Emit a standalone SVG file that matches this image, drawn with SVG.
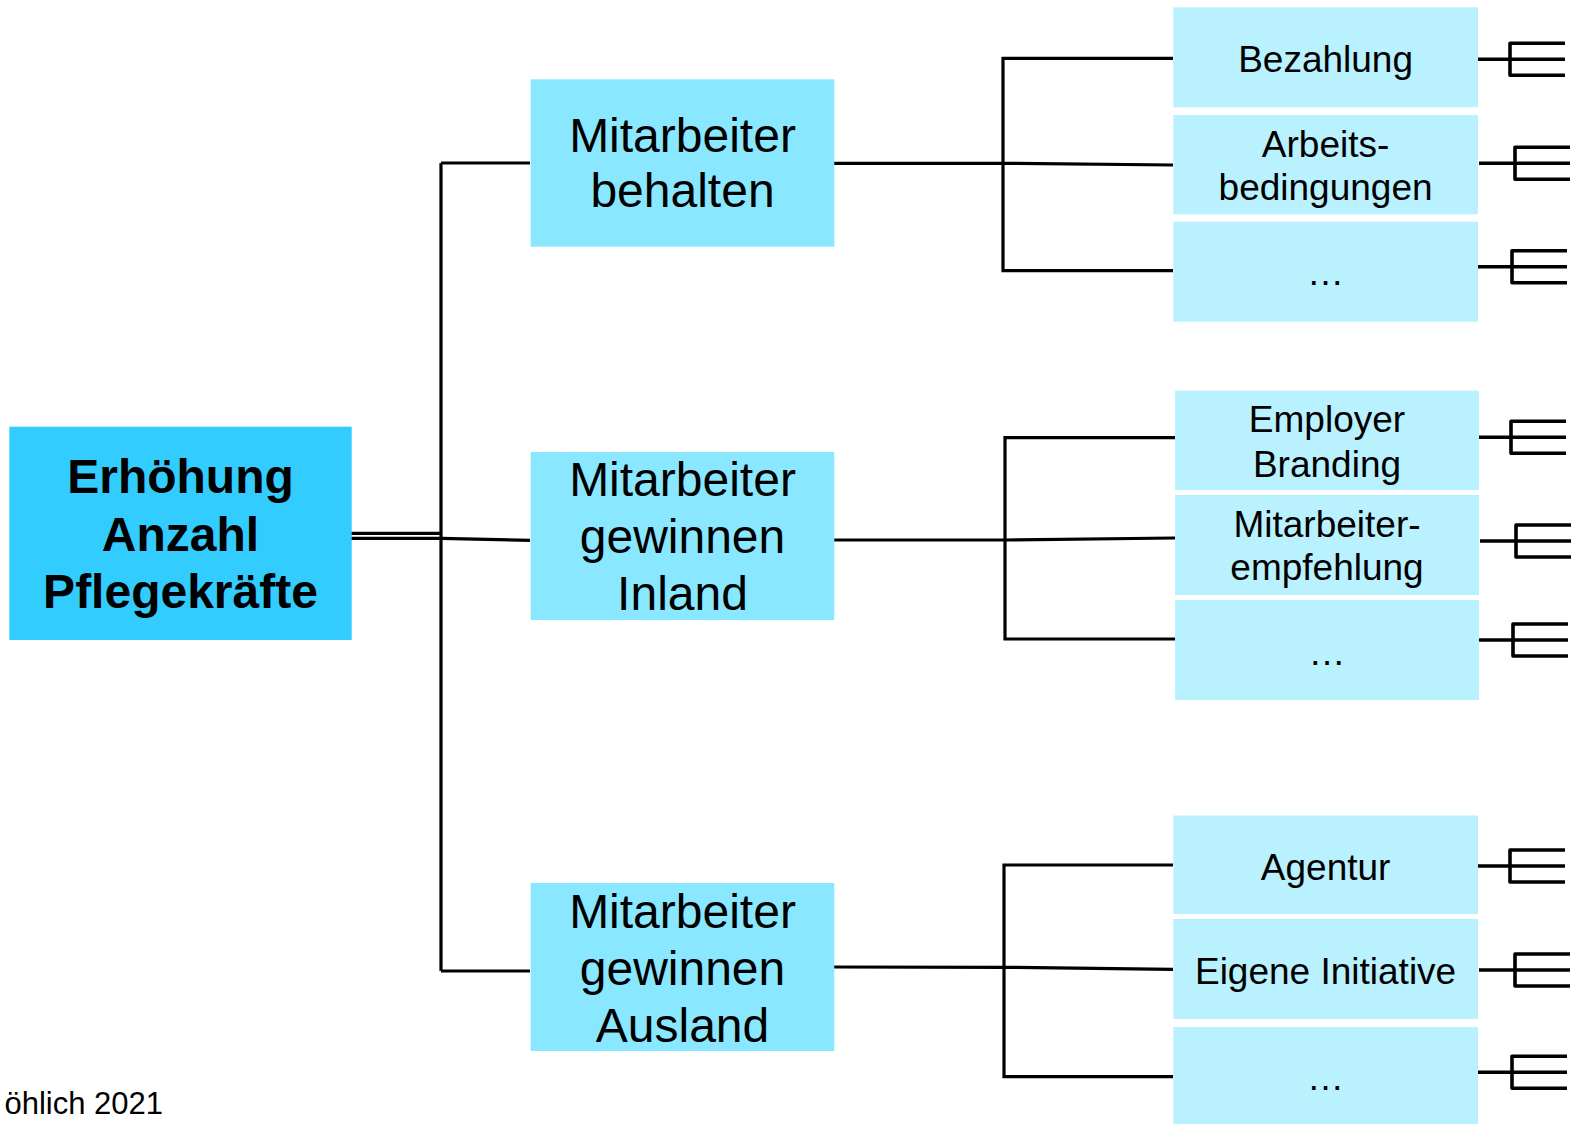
<svg xmlns="http://www.w3.org/2000/svg" width="1575" height="1124" viewBox="0 0 1575 1124">
  <style>
    text { font-family: "Liberation Sans", Arial, sans-serif; fill: #000; text-anchor: middle; }
    .root rect { fill: #33CCFF; }
    .root text { font-size: 48px; font-weight: bold; }
    .mid rect { fill: #89E8FF; }
    .mid text { font-size: 48px; }
    .leaf rect { fill: #BAF1FF; }
    .leaf text { font-size: 37px; }
    .wire { fill: none; stroke: #000; stroke-width: 3.2; }
    .fork { fill: none; stroke: #000; stroke-width: 3.6; stroke-linejoin: round; }
    .note { font-size: 31px; text-anchor: end; }
  </style>
  <defs>
    <!-- trident-shaped end mark: stem plus two prongs -->
    <path id="fork" class="fork" d="M0 0 H91 M91 -16 H36 V16 H91"/>
  </defs>

  <rect width="1575" height="1124" fill="#fff"/>

  <!-- connectors -->
  <g id="connectors">
    <!-- root to trunk -->
    <path class="wire" d="M351 533.3 H441"/>
    <path class="wire" d="M351 538.3 H441 L530 540.3"/>
    <path class="wire" d="M441 163 V971"/>
    <path class="wire" d="M441 163 H530"/>
    <path class="wire" d="M441 971 H530"/>

    <!-- behalten branch -->
    <path class="wire" d="M834 163.3 H1003 L1173 165"/>
    <path class="wire" d="M1173 58.3 H1003 V270.7 H1173"/>

    <!-- Inland branch -->
    <path class="wire" d="M834 540 H1005 L1175 538"/>
    <path class="wire" d="M1175 437.7 H1005 V639 H1175"/>

    <!-- Ausland branch -->
    <path class="wire" d="M834 967 L1004 967.3 L1173 969.3"/>
    <path class="wire" d="M1173 865 H1004 V1076.7 H1173"/>

    <!-- end marks -->
    <use href="#fork" x="1474" y="59.3"/>
    <use href="#fork" x="1479" y="163.3"/>
    <use href="#fork" x="1476" y="266.7"/>
    <use href="#fork" x="1475" y="437.3"/>
    <use href="#fork" x="1480" y="541"/>
    <use href="#fork" x="1477" y="640"/>
    <use href="#fork" x="1474" y="866"/>
    <use href="#fork" x="1479" y="970"/>
    <use href="#fork" x="1476" y="1072.3"/>
  </g>

  <!-- root node -->
  <g id="root" class="root">
    <rect x="9.3" y="426.7" width="342.4" height="213.3"/>
    <text x="180.5" y="493.3">Erhöhung</text>
    <text x="180.5" y="550.5">Anzahl</text>
    <text x="180.5" y="608.3">Pflegekräfte</text>
  </g>

  <!-- second level -->
  <g id="mid-behalten" class="mid">
    <rect x="530.7" y="79.3" width="303.6" height="167.4"/>
    <text x="682.5" y="151.7">Mitarbeiter</text>
    <text x="682.5" y="207.3">behalten</text>
  </g>
  <g id="mid-inland" class="mid">
    <rect x="530.7" y="452" width="303.6" height="168"/>
    <text x="682.5" y="496">Mitarbeiter</text>
    <text x="682.5" y="553">gewinnen</text>
    <text x="682.5" y="610">Inland</text>
  </g>
  <g id="mid-ausland" class="mid">
    <rect x="530.7" y="883" width="303.6" height="168"/>
    <text x="682.5" y="928">Mitarbeiter</text>
    <text x="682.5" y="985">gewinnen</text>
    <text x="682.5" y="1042">Ausland</text>
  </g>

  <!-- third level: behalten -->
  <g id="leaf-bezahlung" class="leaf">
    <rect x="1173.3" y="7.3" width="304.7" height="100"/>
    <text x="1325.6" y="71.7">Bezahlung</text>
  </g>
  <g id="leaf-arbeitsbedingungen" class="leaf">
    <rect x="1173.3" y="115" width="304.7" height="99.3"/>
    <text x="1325.6" y="156.7">Arbeits-</text>
    <text x="1325.6" y="200">bedingungen</text>
  </g>
  <g id="leaf-more-1" class="leaf">
    <rect x="1173.3" y="221.7" width="304.7" height="100"/>
    <text x="1325.6" y="285">…</text>
  </g>

  <!-- third level: Inland -->
  <g id="leaf-branding" class="leaf">
    <rect x="1175" y="390.7" width="304" height="99.3"/>
    <text x="1327" y="431.7">Employer</text>
    <text x="1327" y="476.7">Branding</text>
  </g>
  <g id="leaf-empfehlung" class="leaf">
    <rect x="1175" y="495" width="304" height="100"/>
    <text x="1327" y="536.7">Mitarbeiter-</text>
    <text x="1327" y="580">empfehlung</text>
  </g>
  <g id="leaf-more-2" class="leaf">
    <rect x="1175" y="600" width="304" height="100"/>
    <text x="1327" y="665">…</text>
  </g>

  <!-- third level: Ausland -->
  <g id="leaf-agentur" class="leaf">
    <rect x="1173.3" y="815.5" width="304.7" height="98.5"/>
    <text x="1325.6" y="880">Agentur</text>
  </g>
  <g id="leaf-initiative" class="leaf">
    <rect x="1173.3" y="919" width="304.7" height="100"/>
    <text x="1325.6" y="984">Eigene Initiative</text>
  </g>
  <g id="leaf-more-3" class="leaf">
    <rect x="1173.3" y="1027" width="304.7" height="97"/>
    <text x="1325.6" y="1090">…</text>
  </g>

  <!-- source note, cut off at the left edge -->
  <text class="note" x="163" y="1114">öhlich 2021</text>
</svg>
